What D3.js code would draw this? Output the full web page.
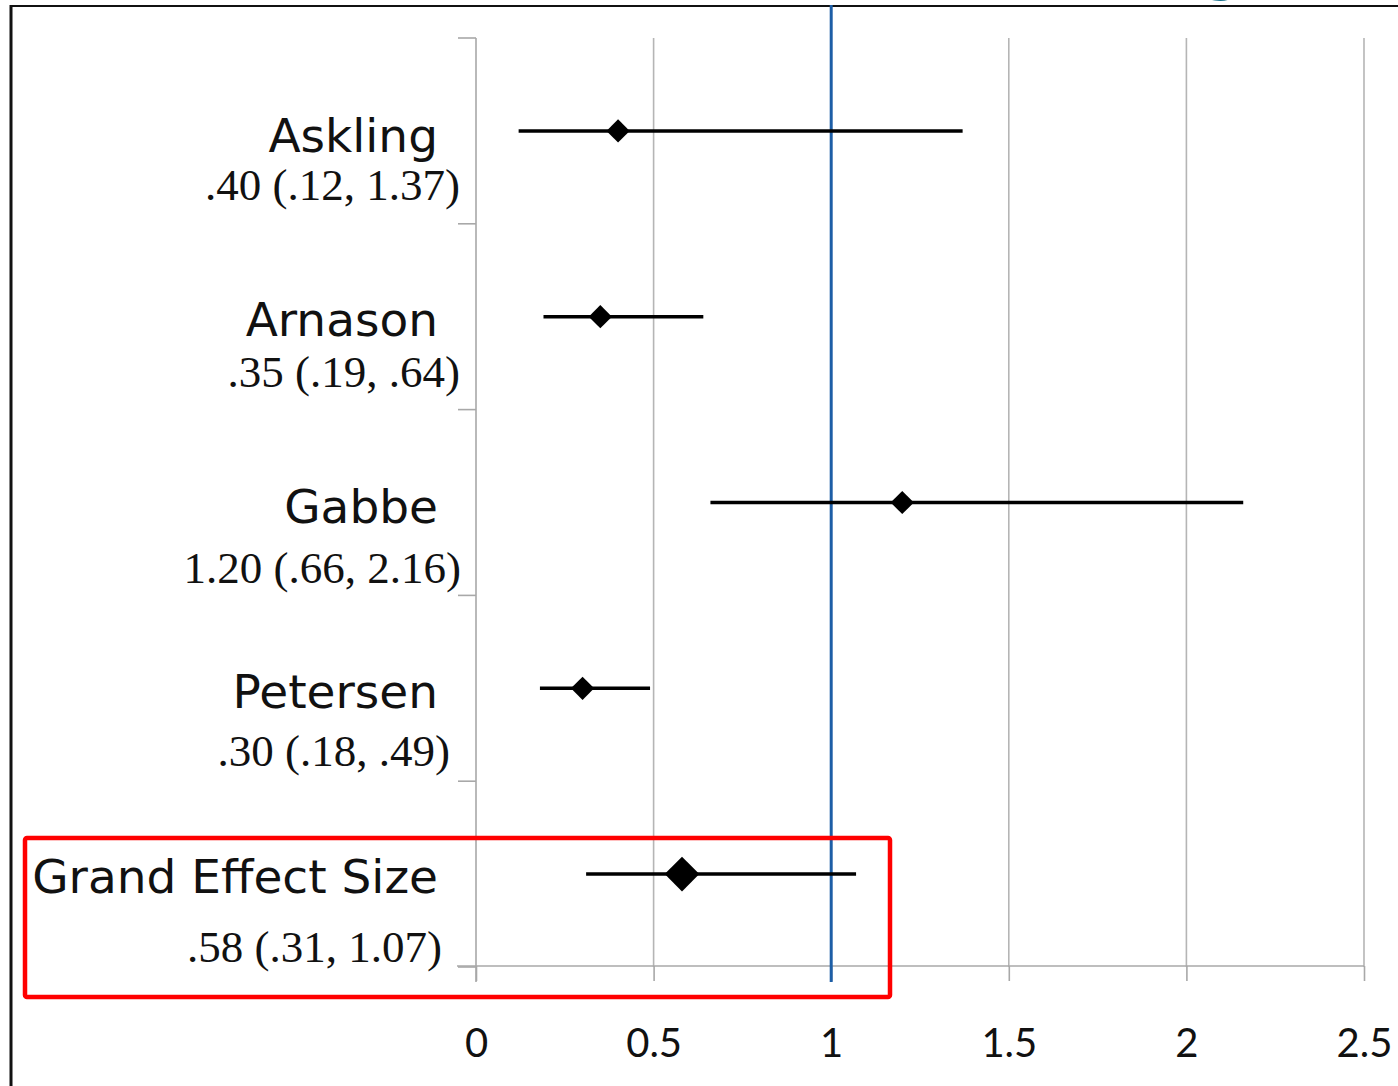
<!DOCTYPE html>
<html>
<head>
<meta charset="utf-8">
<script src="https://cdn.jsdelivr.net/npm/d3@7"></script>
<style>
  body { margin: 0; background: #fff; }
  svg { display: block; }
</style>
</head>
<body>
<div id="chart"></div>
<script>
// data
const studies = ['Askling', 'Arnason', 'Gabbe', 'Petersen', 'Grand Effect Size']
const estimates = [0.40, 0.35, 1.20, 0.30, 0.58]
const lowers = [0.12, 0.19, 0.66, 0.18, 0.31]
const uppers = [1.37, 0.64, 2.16, 0.49, 1.07]
const ciLabels = ['.40 (.12, 1.37)', '.35 (.19, .64)', '1.20 (.66, 2.16)', '.30 (.18, .49)', '.58 (.31, 1.07)']
const xTicks = [0, 0.5, 1, 1.5, 2, 2.5]
const refValue = 1

// label layout (baseline offsets from row centre, right edge of the number line)
const nameDy = [21, 19, 20, 20, 19]
const numDy = [69, 70, 80, 78, 88]
const numRight = [460, 460, 461, 450, 442]

function draw () {
    const dimensions = {
        width: 1398,
        height: 1086,
        plotLeft: 476,
        plotRight: 1364,
        plotTop: 38,
        plotBottom: 967
    }

    const svg = d3.select('#chart')
        .append('svg')
        .attr('width', dimensions.width)
        .attr('height', dimensions.height)

    const xScale = d3.scaleLinear()
        .domain([0, 2.5])
        .range([dimensions.plotLeft, dimensions.plotRight])

    const yScale = d3.scaleBand()
        .domain(studies)
        .range([dimensions.plotTop, dimensions.plotBottom])
        .padding(0)

    // bit of the slide title peeking in at the top
    svg.append('text')
        .attr('x', 1222)
        .attr('y', -12)
        .attr('text-anchor', 'middle')
        .style('font-family', 'DejaVu Sans')
        .style('font-size', '64px')
        .attr('fill', '#17708c')
        .text('g')

    // outer frame
    svg.append('line')
        .attr('x1', 11).attr('x2', dimensions.width)
        .attr('y1', 6).attr('y2', 6)
        .attr('stroke', '#111').attr('stroke-width', 2)
    svg.append('line')
        .attr('x1', 11).attr('x2', 11)
        .attr('y1', 5).attr('y2', dimensions.height)
        .attr('stroke', '#111').attr('stroke-width', 3)

    // vertical gridlines
    svg.append('g')
        .selectAll('line')
        .data(xTicks.filter(d => d > 0))
        .join('line')
        .attr('x1', d => xScale(d)).attr('x2', d => xScale(d))
        .attr('y1', dimensions.plotTop).attr('y2', dimensions.plotBottom)
        .attr('stroke', '#b5b5b5').attr('stroke-width', 1.6)

    // x axis
    const xAxis = d3.axisBottom(xScale)
        .tickValues(xTicks)
        .tickSize(15)
        .tickSizeOuter(0)
        .tickPadding(48)
        .tickFormat(d3.format('~g'))

    const xAxisGroup = svg.append('g')
        .attr('transform', `translate(0,${dimensions.plotBottom - 1})`)
        .call(xAxis)
    xAxisGroup.select('.domain')
        .attr('d', `M${dimensions.plotLeft - 19},0H${dimensions.plotRight}`)
        .attr('stroke', '#a8a8a8').attr('stroke-width', 1.6)
    xAxisGroup.selectAll('.tick line').attr('stroke', '#a8a8a8').attr('stroke-width', 1.6)
    xAxisGroup.selectAll('.tick text')
        .style('font-family', 'Lato')
        .style('font-size', '40px')
        .attr('fill', '#111')

    // y axis with tick marks between rows
    const yBounds = studies.map(s => yScale(s)).concat([dimensions.plotBottom])
    svg.append('line')
        .attr('x1', dimensions.plotLeft).attr('x2', dimensions.plotLeft)
        .attr('y1', dimensions.plotTop).attr('y2', dimensions.plotBottom + 15)
        .attr('stroke', '#a8a8a8').attr('stroke-width', 1.6)
    svg.append('g')
        .selectAll('line')
        .data(yBounds)
        .join('line')
        .attr('x1', dimensions.plotLeft - 18).attr('x2', dimensions.plotLeft)
        .attr('y1', d => d).attr('y2', d => d)
        .attr('stroke', '#a8a8a8').attr('stroke-width', 1.6)

    // reference line at 1
    svg.append('line')
        .attr('x1', xScale(refValue)).attr('x2', xScale(refValue))
        .attr('y1', 5).attr('y2', dimensions.plotBottom + 15)
        .attr('stroke', '#1d5ea6').attr('stroke-width', 3)

    const rowCenter = (s) => yScale(s) + yScale.bandwidth() / 2

    // confidence intervals
    svg.append('g')
        .selectAll('line')
        .data(studies)
        .join('line')
        .attr('x1', (d, i) => xScale(lowers[i]))
        .attr('x2', (d, i) => xScale(uppers[i]))
        .attr('y1', d => rowCenter(d))
        .attr('y2', d => rowCenter(d))
        .attr('stroke', '#000').attr('stroke-width', 3.5)

    // point estimates (bigger diamond for the pooled effect)
    const diamond = d3.symbol().type(d3.symbolSquare)
    svg.append('g')
        .selectAll('path')
        .data(studies)
        .join('path')
        .attr('d', (d, i) => diamond.size(i === studies.length - 1 ? 600 : 270)())
        .attr('transform', (d, i) => `translate(${xScale(estimates[i])},${rowCenter(d)}) rotate(45)`)
        .attr('fill', '#000')

    // labels
    const labels = svg.append('g')
    labels.selectAll('text.name')
        .data(studies)
        .join('text')
        .classed('name', true)
        .attr('x', 438)
        .attr('y', (d, i) => rowCenter(d) + nameDy[i])
        .attr('text-anchor', 'end')
        .style('font-family', 'DejaVu Sans')
        .style('font-size', '47px')
        .attr('fill', '#111')
        .text(d => d)

    labels.selectAll('text.ci')
        .data(ciLabels)
        .join('text')
        .classed('ci', true)
        .attr('x', (d, i) => numRight[i])
        .attr('y', (d, i) => rowCenter(studies[i]) + numDy[i])
        .attr('text-anchor', 'end')
        .style('font-family', 'Liberation Serif')
        .style('font-size', '45px')
        .attr('fill', '#111')
        .text(d => d)

    // highlight box around the pooled estimate
    svg.append('rect')
        .attr('x', 25).attr('y', 838)
        .attr('width', 865).attr('height', 159)
        .attr('rx', 2)
        .attr('fill', 'none')
        .attr('stroke', '#ff0000')
        .attr('stroke-width', 4.5)
}

draw()
</script>
</body>
</html>
